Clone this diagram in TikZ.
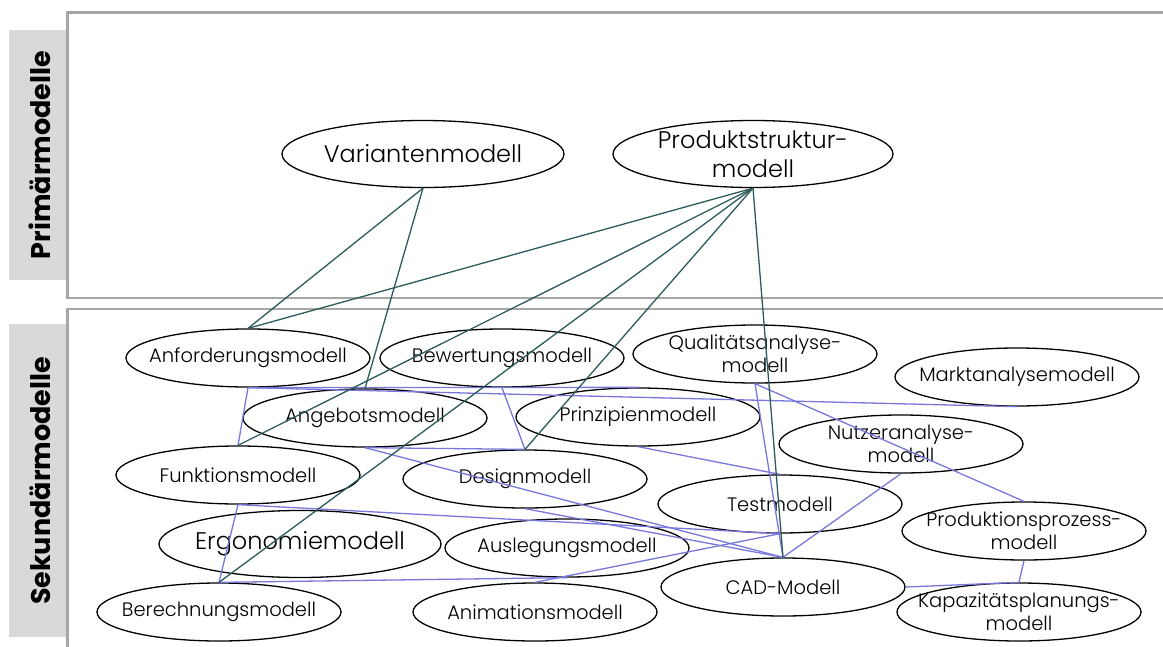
\documentclass[tikz,border=0pt]{standalone}
\usepackage{fontspec}
\setmainfont{Poppins}[UprightFont=* Light,BoldFont=* Bold]
\usetikzlibrary{shapes.geometric}
\definecolor{framegray}{HTML}{A6A6A6}
\definecolor{labelgray}{HTML}{D9D9D9}
\definecolor{primline}{HTML}{2D5A5A}
\definecolor{seclink}{HTML}{7878DC}
\begin{document}
\begin{tikzpicture}[x=1pt,y=-1pt,
  % negative inner sep keeps every ellipse at its minimum size
  model/.style={ellipse,draw=black,line width=1.3pt,fill=white,
    inner xsep=-50pt,inner ysep=-14pt,
    minimum width=244pt,minimum height=58pt,align=center,font=\fontsize{19.5}{23}\selectfont},
  bigmodel/.style={model,minimum width=282pt,minimum height=67pt,font=\fontsize{24}{29}\selectfont},
  frame/.style={draw=framegray,line width=2.6pt},
  sidetext/.style={rotate=90,font=\bfseries\fontsize{27}{30}\selectfont},
  primlink/.style={draw=primline,line width=1.3pt},
  seclinkstyle/.style={draw=seclink,line width=1.3pt}]
\useasboundingbox (0,0) rectangle (1163,646);
\clip (0,0) rectangle (1163,646);

% side labels
\fill[labelgray] (9,30) rectangle (66,280);
\fill[labelgray] (9,324) rectangle (66,637);
\node[sidetext] (lblprim) at (40,155) {Primärmodelle};
\node[sidetext] (lblsek) at (40,481) {Sekundärmodelle};

% frames
\draw[frame] (67.5,12.5) rectangle (1175,298);
\draw[frame] (67.5,309) rectangle (1175,660);

% primary models
\node[bigmodel] (var) at (423,154) {Variantenmodell};
\node[bigmodel,minimum width=280pt] (prod) at (753,154) {Produktstruktur-\\modell};

% secondary models
\node[model] (anf) at (248,358) {Anforderungsmodell};
\node[model] (bew) at (502,358) {Bewertungsmodell};
\node[model] (qual) at (755,354) {Qualitätsanalyse-\\modell};
\node[model] (markt) at (1017,377) {Marktanalysemodell};
\node[model] (ang) at (365,418) {Angebotsmodell};
\node[model] (prinz) at (638,417) {Prinzipienmodell};
\node[model] (nutz) at (901,444) {Nutzeranalyse-\\modell};
\node[model] (funk) at (238,475) {Funktionsmodell};
\node[model] (design) at (525,479) {Designmodell};
\node[model] (test) at (780,504) {Testmodell};
\node[model] (prozess) at (1024,531) {Produktionsprozess-\\modell};
\node[bigmodel] (ergo) at (300,544) {Ergonomiemodell};
\node[model] (ausl) at (567,548) {Auslegungsmodell};
\node[model] (cad) at (783,587) {CAD-Modell};
\node[model] (kap) at (1019,612) {Kapazitätsplanungs-\\modell};
\node[model] (ber) at (219,612) {Berechnungsmodell};
\node[model] (anim) at (535,612) {Animationsmodell};

% links between secondary models
\draw[seclinkstyle] (anf.south) -- (funk.north);
\draw[seclinkstyle] (anf.south) -- (prinz.north);
\draw[seclinkstyle] (anf.south) -- (markt.south);
\draw[seclinkstyle] (bew.south) -- (design.north);
\draw[seclinkstyle] (ang.south) -- (design.north);
\draw[seclinkstyle] (ang.south) -- (cad.north);
\draw[seclinkstyle] (prinz.south) -- (test.north);
\draw[seclinkstyle] (design.south) -- (cad.north);
\draw[seclinkstyle] (funk.south) -- (ber.north);
\draw[seclinkstyle] (funk.south) -- (test.south);
\draw[seclinkstyle] (ber.north) -- (ausl.south);
\draw[seclinkstyle] (anim.north) -- (test.south);
\draw[seclinkstyle] (nutz.south) -- (cad.north);
\draw[seclinkstyle] (qual.south) -- (prozess.north);
\draw[seclinkstyle] (qual.south) -- (cad.north);
\draw[seclinkstyle] (prozess.south) -- (kap.north);
\draw[seclinkstyle] (cad.east) -- (kap.north);

% links from primary models
\draw[primlink] (var.south) -- (anf.north);
\draw[primlink] (var.south) -- (ang.north);
\draw[primlink] (prod.south) -- (anf.north);
\draw[primlink] (prod.south) -- (funk.north);
\draw[primlink] (prod.south) -- (ber.north);
\draw[primlink] (prod.south) -- (design.north);
\draw[primlink] (prod.south) -- (cad.north);
\end{tikzpicture}
\end{document}
